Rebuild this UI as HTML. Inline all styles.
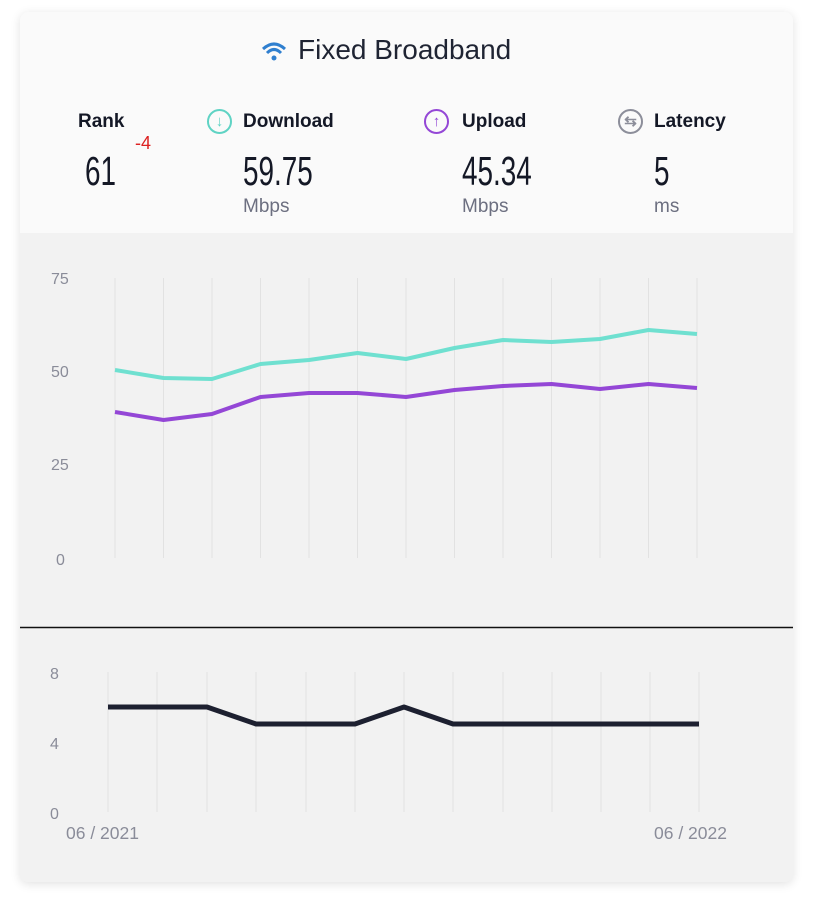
<!DOCTYPE html>
<html><head><style>
body{margin:0;width:816px;height:900px;background:#fff;font-family:"Liberation Sans",sans-serif;position:relative;overflow:hidden}
.card{position:absolute;left:20px;top:12px;width:773px;height:870px;border-radius:8px;background:#f2f2f2;box-shadow:0 2px 10px rgba(0,0,0,0.12);overflow:hidden}
.top{position:absolute;left:0;top:0;width:773px;height:221px;background:#fafafa}
.t{position:absolute;font-size:28px;color:#1f2433;left:278px;top:22px}
.lab{position:absolute;font-weight:bold;font-size:19px;color:#141826;top:99px}
.num{position:absolute;font-size:41px;color:#141826;top:136px;transform:scaleX(0.68);transform-origin:left;font-family:"Liberation Sans Narrow","Liberation Sans",sans-serif}
.unit{position:absolute;font-size:19px;color:#6c6f80;top:184px}
.ic{position:absolute;top:97px;width:21px;height:21px;border:2px solid;border-radius:50%;text-align:center;font-size:15px;line-height:21px;font-weight:bold}
</style></head><body>
<div class="card">
<div class="top">
<svg style="position:absolute;left:241px;top:29px" width="26" height="22" viewBox="0 0 26 22"><path d="M2 8 Q13 -2 24 8" stroke="#2f7fcf" stroke-width="3" fill="none"/><path d="M6 12 Q13 5 20 12" stroke="#2f7fcf" stroke-width="3" fill="none"/><circle cx="13" cy="17" r="2.5" fill="#2f7fcf"/></svg>
<div class="t">Fixed Broadband</div>
<div class="lab" style="left:58px">Rank</div>
<div class="num" style="left:65px">61</div>
<div style="position:absolute;left:115px;top:121px;color:#d22;font-size:18px">-4</div>
<div class="ic" style="left:187px;color:#5fd3c4;border-color:#5fd3c4">↓</div>
<div class="lab" style="left:223px">Download</div>
<div class="num" style="left:223px">59.75</div>
<div class="unit" style="left:223px">Mbps</div>
<div class="ic" style="left:404px;color:#9447d6;border-color:#9447d6">↑</div>
<div class="lab" style="left:442px">Upload</div>
<div class="num" style="left:442px">45.34</div>
<div class="unit" style="left:442px">Mbps</div>
<div class="ic" style="left:598px;color:#8c8e9a;border-color:#8c8e9a">⇆</div>
<div class="lab" style="left:634px">Latency</div>
<div class="num" style="left:634px">5</div>
<div class="unit" style="left:634px">ms</div>
</div>
</div>
<svg style="position:absolute;left:0;top:0" width="816" height="900" font-family="Liberation Sans" font-size="16" fill="#8a8c99">
<g stroke="#e2e2e2" stroke-width="1">
<line x1="115" y1="278" x2="115" y2="558"/><line x1="163.5" y1="278" x2="163.5" y2="558"/><line x1="212" y1="278" x2="212" y2="558"/><line x1="260.5" y1="278" x2="260.5" y2="558"/><line x1="309" y1="278" x2="309" y2="558"/><line x1="357.5" y1="278" x2="357.5" y2="558"/><line x1="406" y1="278" x2="406" y2="558"/><line x1="454.5" y1="278" x2="454.5" y2="558"/><line x1="503" y1="278" x2="503" y2="558"/><line x1="551.5" y1="278" x2="551.5" y2="558"/><line x1="600" y1="278" x2="600" y2="558"/><line x1="648.5" y1="278" x2="648.5" y2="558"/><line x1="697" y1="278" x2="697" y2="558"/>
<line x1="108" y1="672" x2="108" y2="812"/><line x1="157" y1="672" x2="157" y2="812"/><line x1="207" y1="672" x2="207" y2="812"/><line x1="256" y1="672" x2="256" y2="812"/><line x1="306" y1="672" x2="306" y2="812"/><line x1="355" y1="672" x2="355" y2="812"/><line x1="404" y1="672" x2="404" y2="812"/><line x1="453" y1="672" x2="453" y2="812"/><line x1="503" y1="672" x2="503" y2="812"/><line x1="552" y1="672" x2="552" y2="812"/><line x1="601" y1="672" x2="601" y2="812"/><line x1="650" y1="672" x2="650" y2="812"/><line x1="699" y1="672" x2="699" y2="812"/>
</g>
<text x="51" y="284">75</text><text x="51" y="377">50</text><text x="51" y="470">25</text><text x="56" y="565">0</text>
<text x="50" y="679">8</text><text x="50" y="749">4</text><text x="50" y="819">0</text>
<text x="66" y="839" font-size="17.5">06 / 2021</text><text x="654" y="839" font-size="17.5">06 / 2022</text>
<polyline fill="none" stroke="#6fe0d0" stroke-width="4" stroke-linejoin="round" points="115,370 163.5,378 212,379 260.5,364 309,360 357.5,353 406,359 454.5,348 503,340 551.5,342 600,339 648.5,330 697,334"/>
<polyline fill="none" stroke="#9447d6" stroke-width="4" stroke-linejoin="round" points="115,412 163.5,420 212,414 260.5,397 309,393 357.5,393 406,397 454.5,390 503,386 551.5,384 600,389 648.5,384 697,388"/>
<line x1="20" y1="627.5" x2="793" y2="627.5" stroke="#111" stroke-width="1.5"/>
<polyline fill="none" stroke="#1d2030" stroke-width="5" stroke-linejoin="round" points="108,707 157,707 207,707 256,724 306,724 355,724 404,707 453,724 503,724 552,724 601,724 650,724 699,724"/>
</svg>
</body></html>
